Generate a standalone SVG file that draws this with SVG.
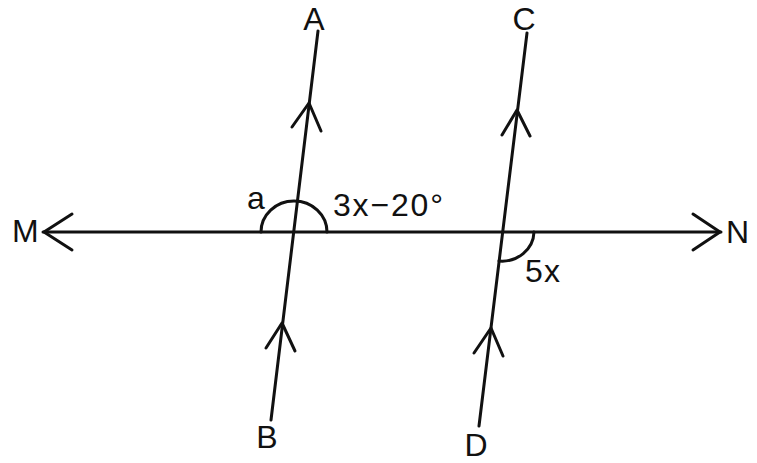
<svg xmlns="http://www.w3.org/2000/svg" width="757" height="463" viewBox="0 0 757 463">
<style>
.ln{stroke:#111;stroke-width:3;fill:none;stroke-linecap:round;stroke-linejoin:round}
.t{font-family:"Liberation Sans",Arial,sans-serif;font-size:32px;fill:#111}
</style>
<rect width="757" height="463" fill="#fff"/>
<g id="connectors">
<line class="ln" x1="43" y1="232" x2="721" y2="232"/>
<polyline class="ln" points="72,214 44,232 72,250"/>
<polyline class="ln" points="693,214 720,232 693,250"/>
<line class="ln" x1="318" y1="31" x2="271" y2="420"/>
<polyline class="ln" points="292,127 309,103 321,131"/>
<polyline class="ln" points="266,348 282,323 295,351"/>
<line class="ln" x1="527" y1="33" x2="479" y2="426"/>
<polyline class="ln" points="502,135 517,110 530,136"/>
<polyline class="ln" points="474,353 491,328 503,356"/>
<path class="ln" d="M261 232 A33 31 0 0 1 327 232"/>
<path class="ln" d="M534 232 A32 30 0 0 1 499 261"/>
</g>
<g id="labels">
<text class="t" x="12" y="242">M</text>
<text class="t" x="726" y="243">N</text>
<text class="t" x="314" y="30" text-anchor="middle">A</text>
<text class="t" x="524" y="30" text-anchor="middle">C</text>
<text class="t" x="267" y="448" text-anchor="middle">B</text>
<text class="t" x="476" y="456" text-anchor="middle">D</text>
<text class="t" x="247" y="209">a</text>
<text class="t" x="333" y="216" textLength="110" lengthAdjust="spacing">3x−20°</text>
<text class="t" x="525" y="282" textLength="35" lengthAdjust="spacing">5x</text>
</g>
</svg>
